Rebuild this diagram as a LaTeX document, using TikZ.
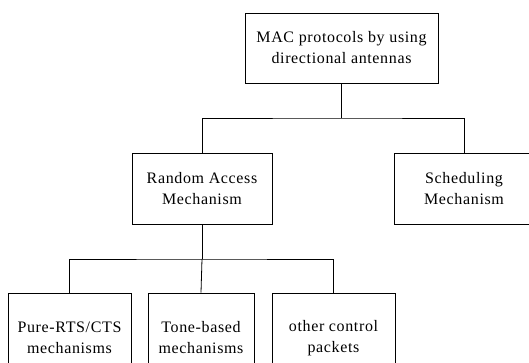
\documentclass[tikz,border=0pt]{standalone}
\usepackage{fontspec}
\setmainfont[LetterSpace=4]{Liberation Serif}
\begin{document}
\begin{tikzpicture}[x=1pt,y=-1pt,
  box/.style={draw, line width=0.8pt, align=center, inner sep=0pt,
    font=\fontsize{16}{21}\selectfont},
  link/.style={line width=0.8pt}]
\useasboundingbox (0,0) rectangle (529,363);
\clip (0,0) rectangle (529,363);
\node[box, minimum width=193pt, minimum height=70pt] (top) at (341.5,48)
  {MAC protocols by using\\directional antennas};
\node[box, minimum width=140pt, minimum height=71pt] (ra) at (202,188.5)
  {Random Access\\Mechanism};
\node[box, minimum width=140pt, minimum height=71pt] (sch) at (464,188.5)
  {Scheduling\\Mechanism};
\node[box, minimum width=123pt, minimum height=90pt] (b1) at (69.5,338)
  {Pure-RTS/CTS\\mechanisms};
\node[box, minimum width=106pt, minimum height=90pt] (b2) at (201,338)
  {Tone-based\\mechanisms};
\node[box, minimum width=123pt, minimum height=90pt] (b3) at (333.5,338)
  {other control\\packets};
\coordinate (j1) at (341.5,118);
\coordinate (j2) at (202,259);
\draw[link] (top.south) -- (j1);
\draw[link] (ra.north) |- (j1) -| (sch.north);
\draw[link] (ra.south) -- (j2);
\draw[link] (b1.north) |- (j2) -| (b3.north);
\draw[link] (j2) -- (b2.north);
\end{tikzpicture}
\end{document}
